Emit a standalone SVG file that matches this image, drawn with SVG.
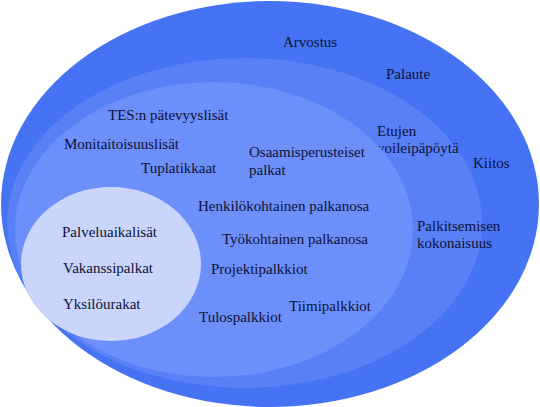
<svg xmlns="http://www.w3.org/2000/svg" width="540" height="407" viewBox="0 0 540 407">
<style>
text{font-family:"Liberation Serif","Times New Roman",serif;font-size:15px;fill:#0c1238}
</style>
<rect width="540" height="407" fill="#ffffff"/>
<g id="outer">
<ellipse cx="270" cy="204" rx="269" ry="203" fill="#4673f3"/>
<text x="283" y="47">Arvostus</text>
<text x="386" y="79">Palaute</text>
<text x="473" y="168">Kiitos</text>
</g>
<g id="second">
<ellipse cx="244.5" cy="223" rx="237.5" ry="165" fill="#5980f6"/>
<text x="377" y="136">Etujen</text>
<text x="377" y="153">voileipäpöytä</text>
<text x="417" y="231">Palkitsemisen</text>
<text x="417" y="248">kokonaisuus</text>
</g>
<g id="third">
<ellipse cx="214" cy="229.5" rx="199" ry="147.5" fill="#6c8ff9"/>
<text x="108" y="120">TES:n pätevyyslisät</text>
<text x="64" y="149">Monitaitoisuuslisät</text>
<text x="141" y="173">Tuplatikkaat</text>
<text x="249" y="157">Osaamisperusteiset</text>
<text x="249" y="175">palkat</text>
<text x="198" y="211">Henkilökohtainen palkanosa</text>
<text x="222" y="244">Työkohtainen palkanosa</text>
<text x="211" y="274">Projektipalkkiot</text>
<text x="289" y="311">Tiimipalkkiot</text>
<text x="199" y="322">Tulospalkkiot</text>
</g>
<g id="inner">
<ellipse cx="111" cy="264" rx="90" ry="77" fill="#c9d5fb"/>
<text x="62" y="237">Palveluaikalisät</text>
<text x="63" y="273">Vakanssipalkat</text>
<text x="63" y="309">Yksilöurakat</text>
</g>
<g id="connectors"></g>
</svg>
